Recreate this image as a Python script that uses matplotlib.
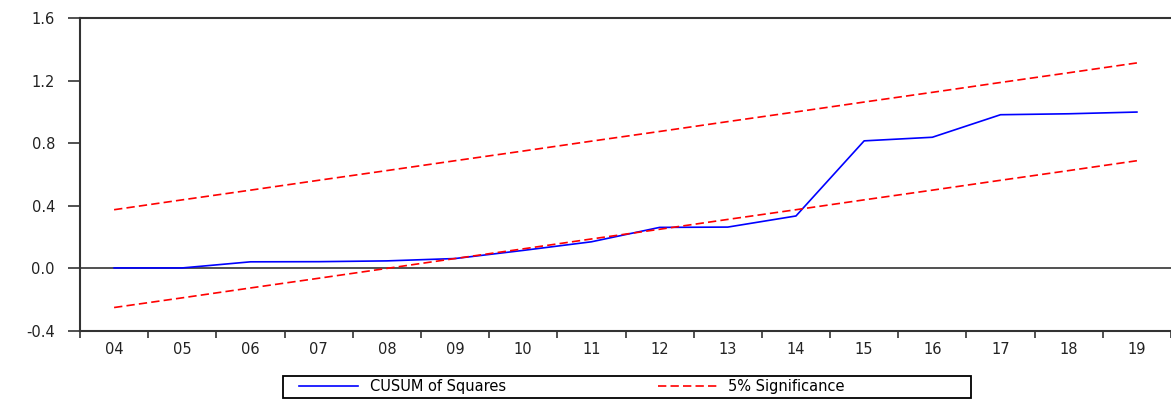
import numpy as np
import matplotlib.pyplot as plt
from matplotlib.patches import Rectangle
from matplotlib.ticker import FixedLocator, FormatStrFormatter

# -----------------------------------------------------------------------------
# values (annual, 2004-2019)

years = ['04', '05', '06', '07', '08', '09', '10', '11',
         '12', '13', '14', '15', '16', '17', '18', '19']

cusum_sq = [0.003, 0.003, 0.042, 0.043, 0.048, 0.063, 0.115, 0.170,
            0.262, 0.264, 0.335, 0.815, 0.838, 0.982, 0.988, 0.999]

upper_5 = [0.375, 0.438, 0.500, 0.563, 0.625, 0.688, 0.750, 0.813,
           0.875, 0.938, 1.000, 1.063, 1.125, 1.188, 1.250, 1.313]

lower_5 = [-0.250, -0.188, -0.125, -0.063, 0.000, 0.063, 0.125, 0.188,
           0.250, 0.313, 0.375, 0.438, 0.500, 0.563, 0.625, 0.688]

y_ticks = [-0.4, 0.0, 0.4, 0.8, 1.2, 1.6]

# -----------------------------------------------------------------------------

plt.rcParams['font.family'] = ['DejaVu Sans']

W, H = 1171, 400
axis_col = '#333333'
x = np.arange(len(years))

fig = plt.figure(figsize=(W/100, H/100), dpi=100)
ax = fig.add_axes([80/W, 69/H, 1 - 80/W, 313/H])

ax.plot(x, cusum_sq, color='#0000FF', linewidth=1.2, label='CUSUM of Squares')
ax.plot(x, upper_5, color='#FF0000', linewidth=1.2, dashes=(5, 2.5),
        label='5% Significance')
ax.plot(x, lower_5, color='#FF0000', linewidth=1.2, dashes=(5, 2.5))
ax.axhline(0.0, color=axis_col, linewidth=1.2, zorder=1)

ax.set_xlim(-0.5, len(years) - 0.5)
ax.set_ylim(-0.4, 1.6)

# year labels sit between the tick marks
ax.set_xticks(x)
ax.set_xticklabels(years)
ax.xaxis.set_minor_locator(FixedLocator(np.arange(len(years) + 1) - 0.5))
ax.tick_params(axis='x', which='major', length=0, pad=8,
               labelsize=10.5, labelcolor='#222222')
ax.tick_params(axis='x', which='minor', length=5, width=1.2,
               color=axis_col, direction='out')

ax.set_yticks(y_ticks)
ax.yaxis.set_major_formatter(FormatStrFormatter('%.1f'))
ax.tick_params(axis='y', length=9, width=1.2, color=axis_col,
               direction='out', pad=9, labelsize=10.5, labelcolor='#222222')

for side in ['top', 'bottom', 'left']:
    ax.spines[side].set_color(axis_col)
    ax.spines[side].set_linewidth(1.5)
ax.spines['right'].set_visible(False)

# legend entries without frame, box drawn separately to match its size
leg = ax.legend(loc='center left', ncol=2,
                bbox_to_anchor=(299/W, 1 - 387/H),
                bbox_transform=fig.transFigure, borderaxespad=0,
                fontsize=10.5, handlelength=4.05, handletextpad=0.8,
                columnspacing=10.4, borderpad=0, frameon=False)

box = Rectangle((283/W, 1 - 398/H), 688/W, 22/H, transform=fig.transFigure,
                facecolor='none', edgecolor='black', linewidth=1.3)
fig.patches.append(box)

plt.savefig('out.png', dpi=100)
